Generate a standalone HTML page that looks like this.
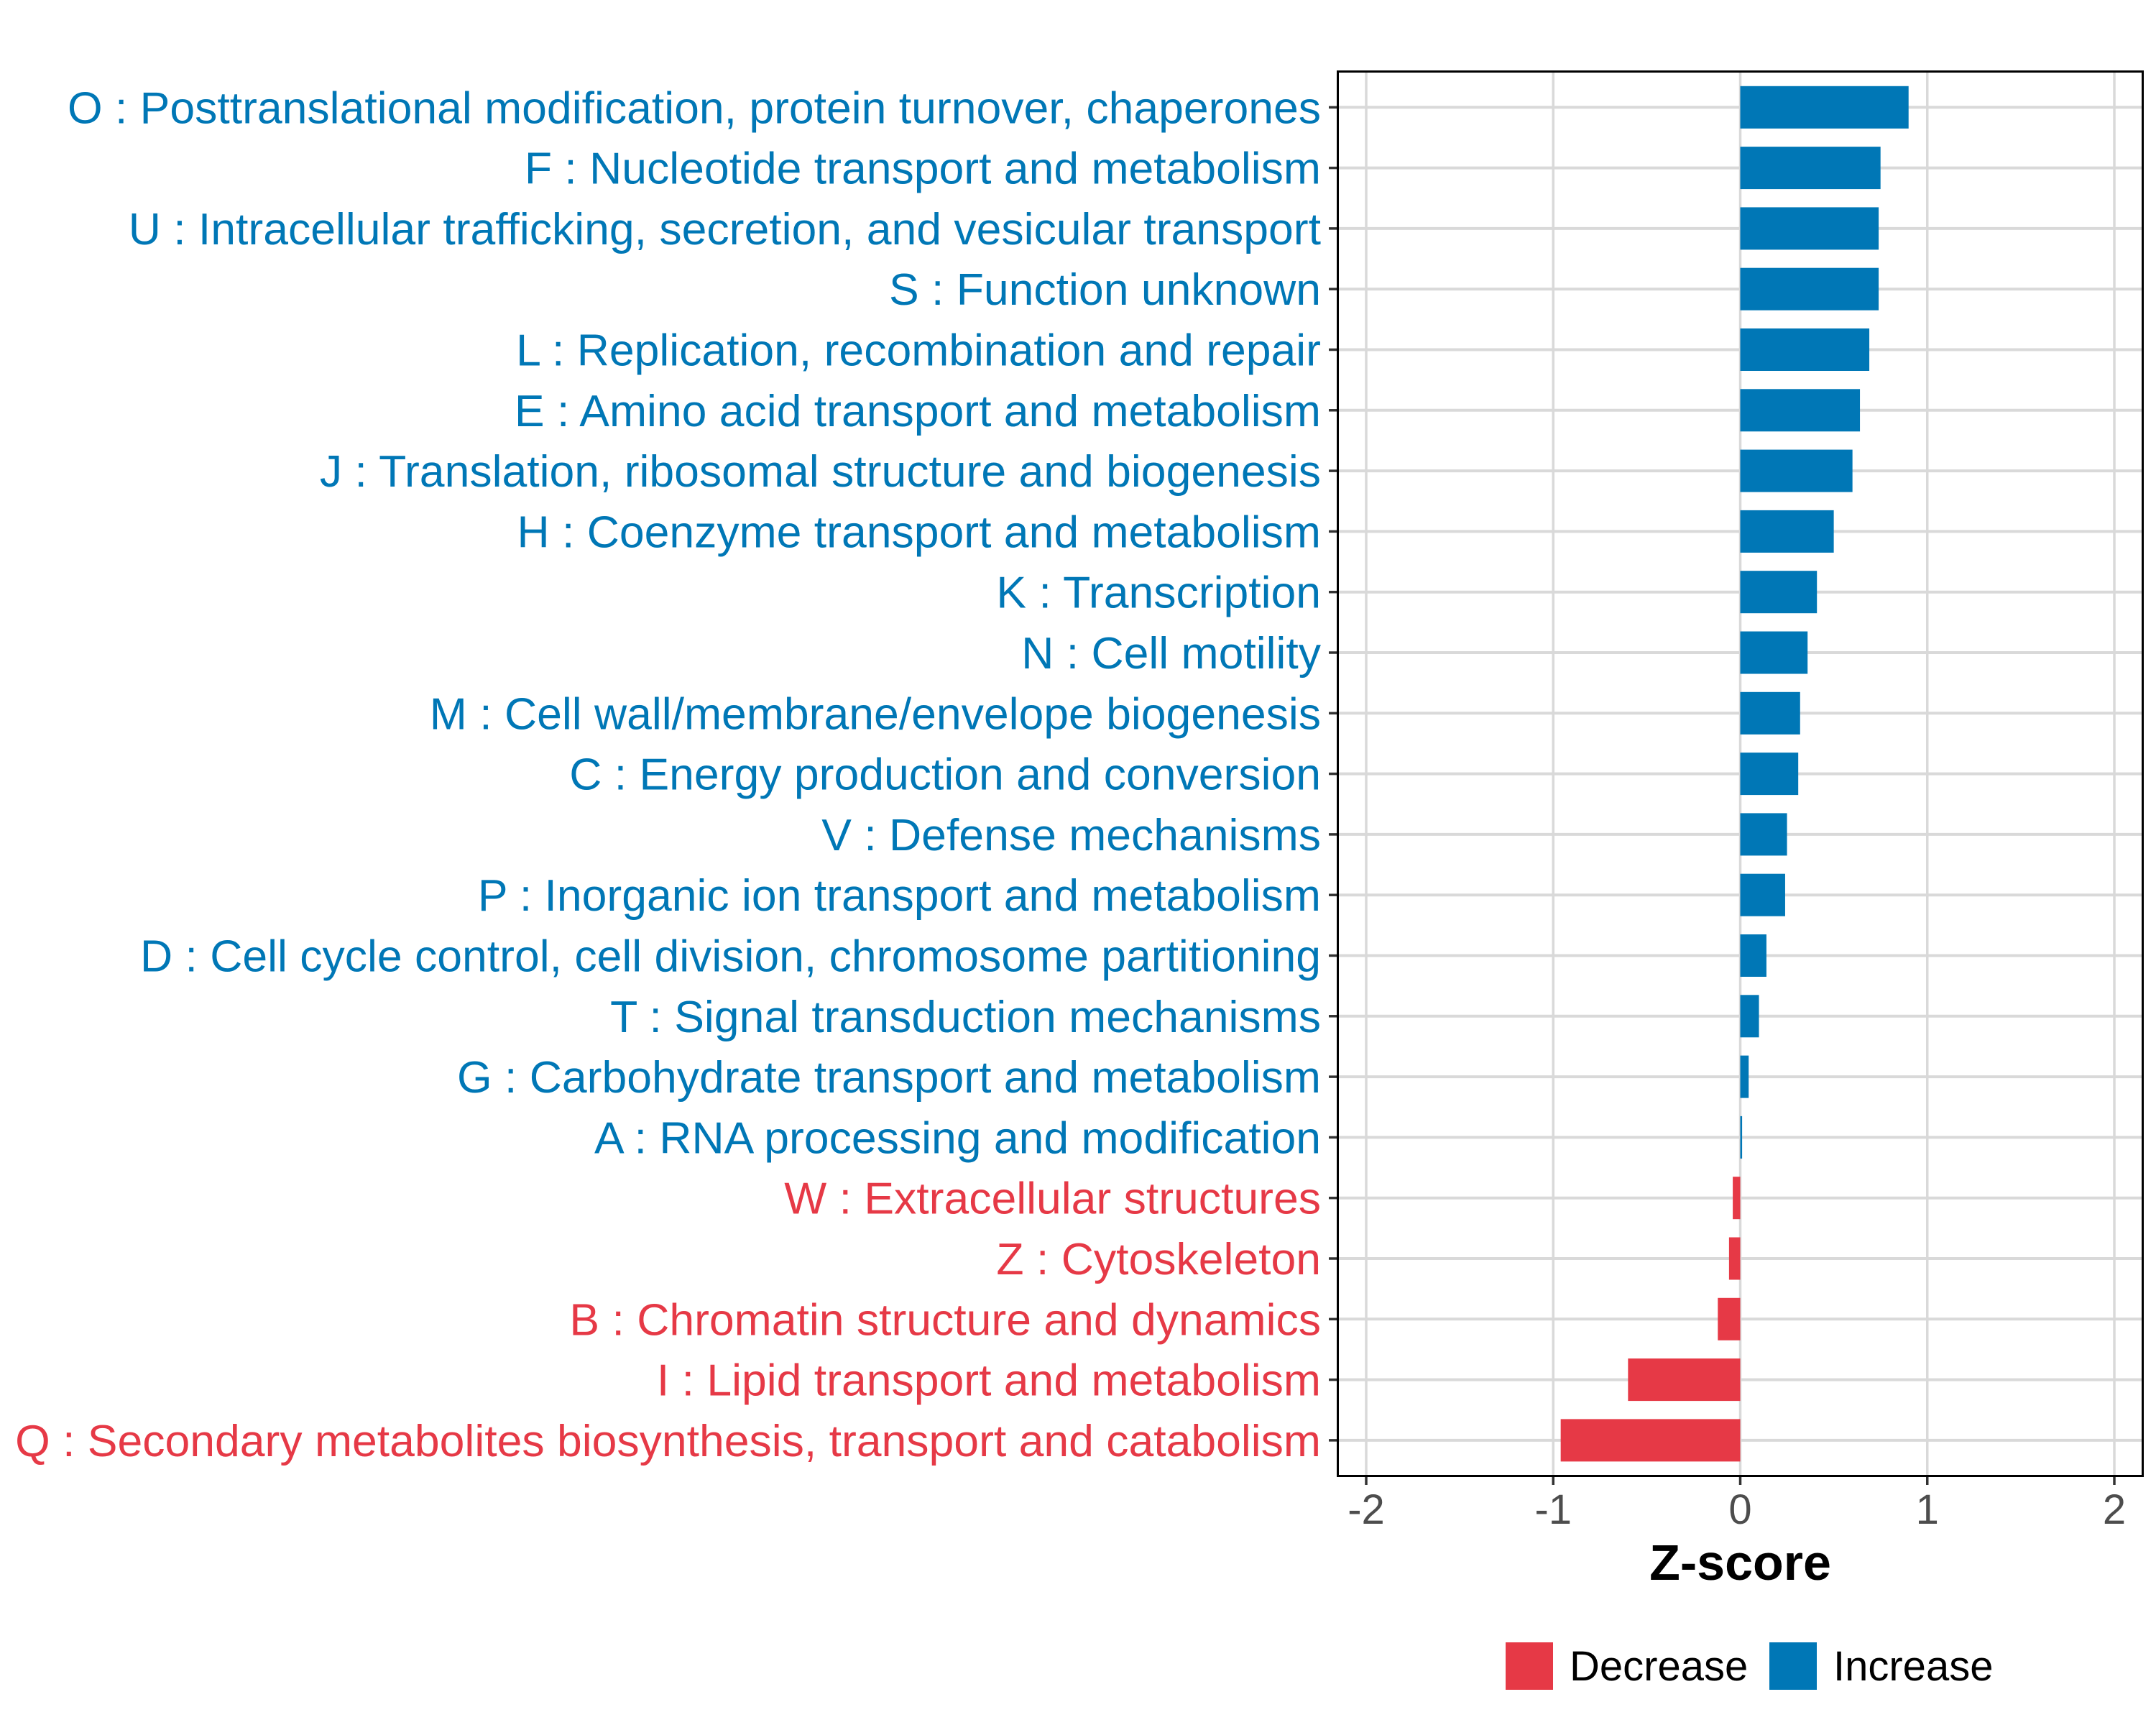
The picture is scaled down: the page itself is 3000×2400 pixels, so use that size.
<!DOCTYPE html>
<html><head><meta charset="utf-8"><style>
html,body{margin:0;padding:0;background:#fff}
svg{display:block;font-family:"Liberation Sans",Arial,sans-serif}
</style></head><body>
<svg id="chart" width="3000" height="2400" viewBox="0 0 3000 2400" xmlns="http://www.w3.org/2000/svg">
<rect x="0" y="0" width="3000" height="2400" fill="#fff"/>
<g id="grid"></g><g id="bars"></g><g id="ylabels"></g><g id="xaxis"></g>
<rect x="1861.5" y="99.5" width="1120" height="1954" fill="none" stroke="#000" stroke-width="3"/>
<text x="2421.5" y="2198" font-size="70" font-weight="bold" text-anchor="middle" fill="#000">Z-score</text>
<g>
<rect x="2095" y="2285" width="66" height="66" fill="#e63946"/>
<text x="2184" y="2338" font-size="58" fill="#000">Decrease</text>
<rect x="2462" y="2285" width="66" height="66" fill="#0077b6"/>
<text x="2551" y="2338" font-size="58" fill="#000">Increase</text>
</g>
</svg>
<script>
const categories = ["O : Posttranslational modification, protein turnover, chaperones","F : Nucleotide transport and metabolism","U : Intracellular trafficking, secretion, and vesicular transport","S : Function unknown","L : Replication, recombination and repair","E : Amino acid transport and metabolism","J : Translation, ribosomal structure and biogenesis","H : Coenzyme transport and metabolism","K : Transcription","N : Cell motility","M : Cell wall/membrane/envelope biogenesis","C : Energy production and conversion","V : Defense mechanisms","P : Inorganic ion transport and metabolism","D : Cell cycle control, cell division, chromosome partitioning","T : Signal transduction mechanisms","G : Carbohydrate transport and metabolism","A : RNA processing and modification","W : Extracellular structures","Z : Cytoskeleton","B : Chromatin structure and dynamics","I : Lipid transport and metabolism","Q : Secondary metabolites biosynthesis, transport and catabolism"];
const zscores = [0.90,0.75,0.74,0.74,0.69,0.64,0.60,0.50,0.41,0.36,0.32,0.31,0.25,0.24,0.14,0.10,0.045,0.01,-0.04,-0.06,-0.12,-0.60,-0.96];
const xTicks = [-2,-1,0,1,2];
const xTickLabels = ["-2","-1","0","1","2"];

const NS="http://www.w3.org/2000/svg";
const x0=2421.5, unit=260.25;
function xs(v){return x0+v*unit;}
const rowTop=149.3, rowStep=84.3;
function ys(i){return rowTop+i*rowStep;}
function mk(tag,attrs,parent){const e=document.createElementNS(NS,tag);for(const k in attrs)e.setAttribute(k,attrs[k]);parent.appendChild(e);return e;}
const grid=document.getElementById('grid'),bars=document.getElementById('bars'),yl=document.getElementById('ylabels'),xa=document.getElementById('xaxis');
xTicks.forEach((t,i)=>{
  const g=mk('line',{x1:xs(t),x2:xs(t),y1:99.5,y2:2053.5,stroke:'#d9d9d9','stroke-width':3.5},grid);
  
  
  const tk=mk('line',{x1:xs(t),x2:xs(t),y1:2053.5,y2:2066,stroke:'#333','stroke-width':3.5},xa);
  
  
  const tl=mk('text',{x:xs(t),y:2120,'font-size':58,'text-anchor':'middle',fill:'#4d4d4d'},xa);
  tl.textContent=xTickLabels[i];
  
  
});
categories.forEach((c,i)=>{
  const y=ys(i);
  const g=mk('line',{x1:1861.5,x2:2981.5,y1:y,y2:y,stroke:'#d9d9d9','stroke-width':4},grid);
  
  
  const v=zscores[i];
  const col=v<0?'#e63946':'#0077b6';
  const b=mk('rect',{x:Math.min(xs(0),xs(v)),y:y-29.5,width:Math.max(Math.abs(xs(v)-xs(0)),1),height:59,fill:col},bars);
  
  
  const tk=mk('line',{x1:1849,x2:1861.5,y1:y,y2:y,stroke:'#333','stroke-width':3.5},yl);
  
  
  const t=mk('text',{x:1838,y:y+22,'font-size':62.5,'text-anchor':'end',fill:col},yl);
  t.textContent=c;
  
  
});
</script>
</body></html>
